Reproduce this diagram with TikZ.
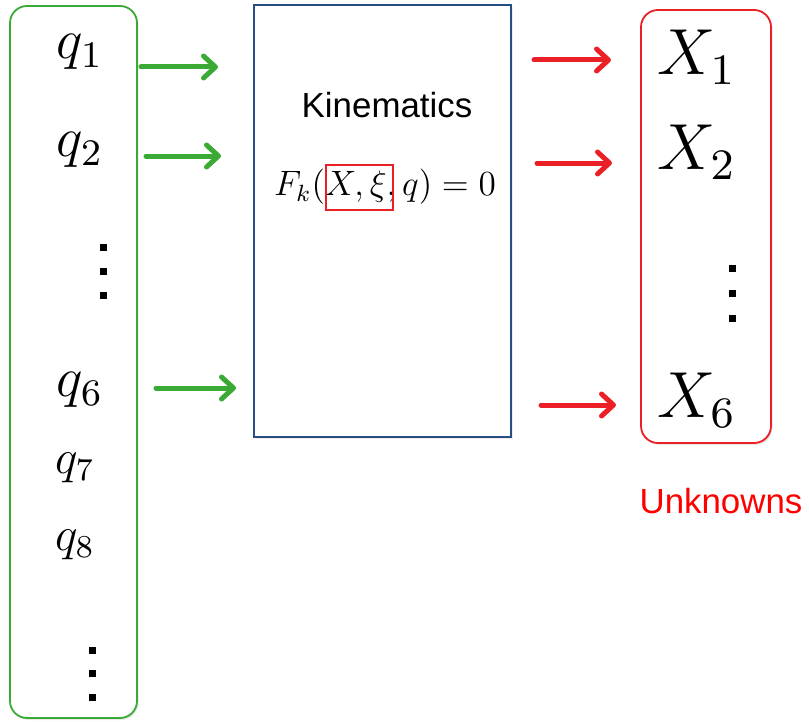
\documentclass[tikz,border=0pt]{standalone}
\usepackage{fix-cm}
\usepackage{amsmath, amssymb}
\usepackage{fontspec}
\newfontfamily\helv{Liberation Sans}
\usepackage{tikz}
\usetikzlibrary{positioning, arrows.meta, shadows}

\definecolor{qgreen}{RGB}{58,170,53}
\definecolor{xred}{RGB}{234,32,38}
\definecolor{kblue}{RGB}{38,78,130}

\begin{document}
\begin{tikzpicture}[
  x=1bp, y=-1bp,
  qbig/.style={font=\large, scale=4.7, inner sep=0pt},
  qsmall/.style={font=\large, scale=4.0, inner sep=0pt},
  xbig/.style={font=\large, scale=5.45, inner sep=0pt},
  eqn/.style={font=\large, scale=2.95, inner sep=0pt},
  sqdot/.style={fill=black, minimum size=7bp, inner sep=0pt},
  listbox/.style={rounded corners=17bp, line width=1.8bp, fill=white, inner sep=0pt,
                  drop shadow={opacity=0.18, shadow xshift=1.5bp, shadow yshift=-2bp}},
  fat/.style={line width=5bp, line cap=round,
              -{Straight Barb[length=12bp, width=22bp, line cap=round, line join=round]}},
  sanslab/.style={font=\helv\fontsize{35}{42}\selectfont}
]
\useasboundingbox (0,0) rectangle (809,722);

% the three boxes
\node[listbox, draw=qgreen, minimum width=127bp, minimum height=712bp] (qlist) at (73.5,362) {};
\node[draw=kblue, line width=1.4bp, fill=white, minimum width=257bp, minimum height=432bp,
      drop shadow={opacity=0.15, shadow xshift=1.5bp, shadow yshift=-2bp}] (kin) at (382.5,221) {};
\node[listbox, draw=xred, minimum width=130bp, minimum height=433bp] (xlist) at (706,226.5) {};

% inputs
\foreach \i/\y in {1/52, 2/150, 6/390}
  \node[qbig] (q\i) at (80,\y) {$q_{\i}$};
\foreach \i/\y in {7/468, 8/545}
  \node[qsmall] (q\i) at (75,\y) {$q_{\i}$};
\foreach \y in {247, 271, 295}
  \node[sqdot] (qa\y) at (103,\y) {};
\foreach \y in {650, 673, 697}
  \node[sqdot] (qb\y) at (92,\y) {};

% unknowns
\foreach \i/\y in {1/57, 2/152, 6/400}
  \node[xbig] (x\i) at (697,\y) {$X_{\i}$};
\foreach \y in {268, 293, 318}
  \node[sqdot] (xa\y) at (732,\y) {};
\node[sanslab, text=red] (unklab) at (721,501) {Unknowns};

% kinematics box
\node[sanslab, font=\helv\fontsize{35}{42}\selectfont] (kinlab) at (387,105) {Kinematics};
\node[eqn] (fk) at (385,187) {$F_k(X,\xi,q)=0$};
\node[draw=xred, line width=1.4bp, minimum width=67bp, minimum height=45bp, inner sep=0pt]
  (xibox) at (359.5,187.5) {};

% arrows
\coordinate (ga1) at (141,67);  \coordinate (gb1) at (218,67);
\coordinate (ga2) at (146,156); \coordinate (gb2) at (221,156);
\coordinate (ga6) at (156,388); \coordinate (gb6) at (236,388);
\coordinate (ra1) at (534,60);  \coordinate (rb1) at (611,60);
\coordinate (ra2) at (537,163); \coordinate (rb2) at (612,163);
\coordinate (ra6) at (541,405); \coordinate (rb6) at (616,405);
\foreach \i in {1,2,6} {
  \draw[fat, qgreen] (ga\i) -- (gb\i);
  \draw[fat, xred] (ra\i) -- (rb\i);
}
\end{tikzpicture}
\end{document}
